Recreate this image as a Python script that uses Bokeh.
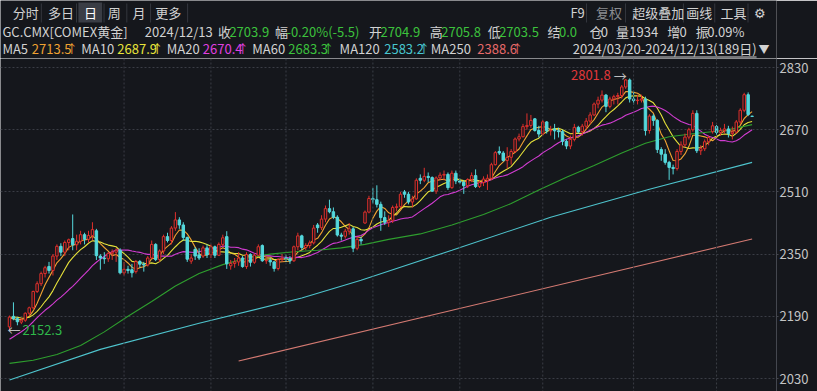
import numpy as np
import pandas as pd
from bokeh.plotting import figure
from bokeh.layouts import column
from bokeh.models import Range1d, FixedTicker, Span, ColumnDataSource
from bokeh.core.properties import value
from bokeh.embed import file_html
from bokeh.resources import INLINE

# ---------------- data ----------------
opens = [2163, 2190, 2184, 2175, 2180, 2198, 2212, 2254, 2274, 2300,
         2318, 2308, 2345, 2370, 2355, 2380, 2390, 2374, 2383, 2400,
         2388, 2398, 2410, 2345, 2340, 2338, 2352, 2355, 2360, 2302,
         2311, 2310, 2305, 2331, 2324, 2322, 2340, 2375, 2336, 2358,
         2395, 2385, 2417, 2438, 2425, 2393, 2332, 2362, 2348, 2345,
         2366, 2348, 2369, 2347, 2375, 2395, 2320, 2326, 2330, 2340,
         2318, 2349, 2329, 2347, 2372, 2333, 2334, 2330, 2313, 2336,
         2340, 2338, 2333, 2369, 2397, 2367, 2372, 2379, 2425, 2418,
         2440, 2467, 2459, 2445, 2399, 2396, 2409, 2415, 2365, 2388,
         2430, 2458, 2493, 2490, 2478, 2444, 2432, 2437, 2470, 2472,
         2510, 2504, 2484, 2492, 2545, 2540, 2550, 2547, 2512, 2546,
         2553, 2555, 2521, 2558, 2538, 2535, 2526, 2542, 2552, 2524,
         2534, 2540, 2545, 2580, 2614, 2610, 2591, 2599, 2614, 2646,
         2652, 2678, 2681, 2698, 2668, 2659, 2690, 2667, 2672, 2667,
         2665, 2640, 2628, 2645, 2676, 2665, 2679, 2692, 2708, 2736,
         2746, 2759, 2730, 2749, 2755, 2758, 2780, 2798, 2749, 2745,
         2746, 2749, 2668, 2705, 2694, 2619, 2607, 2586, 2573, 2570,
         2614, 2631, 2651, 2670, 2712, 2616, 2621, 2639, 2665, 2678,
         2663, 2668, 2672, 2660, 2664, 2690, 2720, 2760, 2704.9]
highs = [2192, 2226, 2188, 2186, 2200, 2215, 2256, 2280, 2305, 2320,
         2330, 2350, 2375, 2378, 2385, 2390, 2452, 2400, 2410, 2405,
         2410, 2432, 2415, 2350, 2355, 2355, 2362, 2365, 2365, 2330,
         2320, 2325, 2335, 2335, 2330, 2345, 2385, 2378, 2362, 2400,
         2405, 2422, 2458, 2445, 2432, 2395, 2350, 2368, 2365, 2372,
         2375, 2375, 2372, 2380, 2400, 2409, 2335, 2340, 2355, 2345,
         2355, 2352, 2352, 2375, 2375, 2345, 2340, 2332, 2340, 2350,
         2348, 2345, 2372, 2405, 2400, 2378, 2385, 2425, 2430, 2450,
         2475, 2490, 2470, 2450, 2405, 2415, 2430, 2420, 2395, 2395,
         2462, 2500, 2520, 2527, 2485, 2460, 2450, 2475, 2480, 2510,
         2515, 2510, 2500, 2545, 2555, 2572, 2560, 2550, 2550, 2560,
         2565, 2560, 2565, 2565, 2545, 2540, 2545, 2560, 2568, 2540,
         2550, 2555, 2585, 2615, 2627, 2615, 2625, 2620, 2650, 2660,
         2685, 2712, 2708, 2700, 2680, 2695, 2692, 2680, 2685, 2675,
         2670, 2645, 2655, 2685, 2680, 2685, 2700, 2715, 2740, 2755,
         2771, 2762, 2755, 2760, 2765, 2785, 2800, 2801.8, 2770, 2760,
         2760, 2755, 2710, 2710, 2697, 2625, 2620, 2590, 2580, 2620,
         2640, 2660, 2675, 2720, 2720, 2630, 2645, 2655, 2690, 2682,
         2675, 2685, 2680, 2678, 2695, 2725, 2765, 2766, 2705.8]
lows = [2152.3, 2180, 2167, 2170, 2176, 2192, 2208, 2250, 2268, 2290,
        2300, 2295, 2335, 2345, 2345, 2360, 2360, 2360, 2375, 2375,
        2380, 2385, 2335, 2310, 2325, 2330, 2335, 2330, 2298, 2295,
        2300, 2290, 2300, 2315, 2305, 2318, 2338, 2332, 2330, 2350,
        2380, 2375, 2410, 2415, 2385, 2330, 2325, 2335, 2335, 2340,
        2340, 2340, 2340, 2345, 2370, 2312, 2310, 2315, 2320, 2315,
        2312, 2318, 2325, 2345, 2330, 2325, 2320, 2305, 2308, 2330,
        2330, 2325, 2330, 2360, 2360, 2360, 2365, 2375, 2405, 2412,
        2432, 2455, 2440, 2395, 2385, 2390, 2400, 2355, 2360, 2375,
        2428, 2455, 2480, 2470, 2410, 2425, 2420, 2430, 2460, 2468,
        2495, 2478, 2470, 2490, 2530, 2535, 2535, 2510, 2505, 2540,
        2540, 2515, 2518, 2530, 2530, 2505, 2520, 2535, 2520, 2520,
        2525, 2515, 2540, 2578, 2605, 2588, 2570, 2580, 2610, 2640,
        2650, 2670, 2675, 2665, 2650, 2655, 2660, 2655, 2645, 2650,
        2630, 2620, 2620, 2640, 2660, 2655, 2670, 2685, 2705, 2725,
        2740, 2715, 2725, 2735, 2735, 2750, 2775, 2740, 2735, 2735,
        2740, 2655, 2660, 2680, 2610, 2590, 2580, 2541, 2555, 2565,
        2605, 2625, 2645, 2665, 2610, 2605, 2615, 2630, 2660, 2655,
        2655, 2660, 2650, 2645, 2660, 2685, 2715, 2705, 2703.5]
closes = [2188, 2184, 2176, 2180, 2198, 2212, 2254, 2274, 2300, 2315,
          2308, 2345, 2370, 2355, 2380, 2387, 2374, 2383, 2400, 2388,
          2398, 2413, 2346, 2340, 2338, 2352, 2355, 2360, 2302, 2311,
          2308, 2302, 2331, 2324, 2322, 2340, 2375, 2336, 2358, 2395,
          2385, 2417, 2438, 2425, 2393, 2337, 2340, 2345, 2340, 2366,
          2348, 2369, 2347, 2375, 2392, 2325, 2326, 2330, 2340, 2318,
          2349, 2329, 2347, 2369, 2333, 2334, 2330, 2313, 2336, 2339,
          2338, 2333, 2369, 2397, 2367, 2372, 2379, 2417, 2418, 2440,
          2467, 2459, 2445, 2399, 2396, 2409, 2415, 2365, 2388, 2384,
          2458, 2493, 2490, 2478, 2444, 2432, 2437, 2470, 2472, 2504,
          2504, 2484, 2492, 2540, 2540, 2550, 2547, 2512, 2546, 2553,
          2555, 2521, 2558, 2538, 2535, 2526, 2542, 2552, 2524, 2534,
          2543, 2545, 2580, 2611, 2610, 2591, 2599, 2614, 2646, 2652,
          2678, 2681, 2694, 2668, 2659, 2690, 2667, 2669, 2667, 2665,
          2640, 2628, 2645, 2676, 2665, 2679, 2692, 2708, 2736, 2746,
          2759, 2730, 2749, 2755, 2758, 2780, 2798, 2749, 2745, 2746,
          2749, 2668, 2705, 2694, 2619, 2607, 2586, 2573, 2570, 2614,
          2631, 2651, 2670, 2712, 2616, 2621, 2639, 2650, 2680, 2663,
          2668, 2672, 2660, 2664, 2690, 2720, 2760, 2709, 2703.9]
# closes before the window (only used for the short moving averages)
pre_closes = [2050, 2045, 2055, 2050, 2048, 2052, 2060, 2105, 2135, 2150,
              2170, 2180, 2200, 2205, 2185, 2195, 2185, 2180, 2180]

# long moving averages (candle index, value)
ma60_idx = [0, 6, 12, 18, 24, 30, 36, 42, 48, 54, 60, 66, 72, 78, 84, 90, 96,
            104, 112, 120, 127, 134, 141, 148, 155, 161, 167, 174, 181, 188]
ma60_val = [2069, 2077, 2092, 2115, 2150, 2190, 2228, 2268, 2300, 2323, 2340,
            2350, 2356, 2360, 2366, 2375, 2388, 2402, 2425, 2452, 2480, 2515,
            2548, 2578, 2610, 2635, 2652, 2661, 2668, 2683]
ma120_idx = [0, 23, 48, 74, 89, 112, 137, 162, 188]
ma120_val = [2026, 2105, 2172, 2237, 2283, 2360, 2445, 2517, 2586]
ma250_idx = [58, 188]
ma250_val = [2075, 2389]

y_ticks = [2030, 2190, 2350, 2510, 2670, 2830]
month_start_idx = [29, 51, 70, 92, 114, 135, 158, 179]

# ---------------- styling ----------------
BG = "#15171c"
FONT = "Noto Sans CJK SC"
RED = "#e0302c"
CYAN = "#54d8dc"
GRID = "#3a3d45"
C_MA5, C_MA10, C_MA20 = "#f0a232", "#e6e23a", "#d23cd2"
C_MA60, C_MA120, C_MA250 = "#2e9e2e", "#4ec3cc", "#d47a72"
LIGHT = "#d2d2d2"
GREEN_T = "#3cc23c"

W = 817
HH = 58
CH = 391 - HH

# ---------------- header ----------------
h = figure(width=W, height=HH, x_range=Range1d(0, W), y_range=Range1d(HH, 0),
           toolbar_location=None, output_backend="svg", x_axis_location=None,
           y_axis_location=None, min_border=0, outline_line_color=None,
           background_fill_color=BG, border_fill_color=BG)
h.grid.visible = False

r1, r2, r3 = 12, 31, 48
h.quad(left=[82], right=[107], top=[2], bottom=[22], fill_color="#3a3d45", line_color=None)
sep_x = [43, 80, 109, 133, 158, 197, 617, 658, 719, 752, 787]
h.segment(x0=sep_x, x1=sep_x, y0=[3] * len(sep_x), y1=[22] * len(sep_x),
          line_color="#34373e", line_width=1)

items = [
    # row 1
    (13, r1, "分时", LIGHT), (50, r1, "多日", LIGHT), (88, r1, "日", "#ffffff"),
    (113, r1, "周", LIGHT), (139, r1, "月", LIGHT), (163, r1, "更多", LIGHT),
    (600, r1, "F9", LIGHT), (627, r1, "复权", "#8a8c90"), (665, r1, "超级叠加", LIGHT),
    (722, r1, "画线", LIGHT), (758, r1, "工具", LIGHT), (793, r1, "⚙", LIGHT),
    # row 2
    (2, r2, "GC.CMX[COMEX黄金]", LIGHT), (152, r2, "2024/12/13", LIGHT),
    (229, r2, "收", LIGHT), (241, r2, "2703.9", GREEN_T),
    (289, r2, "幅", LIGHT), (301, r2, "-0.20%(-5.5)", GREEN_T),
    (388, r2, "开", LIGHT), (400, r2, "2704.9", GREEN_T),
    (452, r2, "高", LIGHT), (464, r2, "2705.8", GREEN_T),
    (513, r2, "低", LIGHT), (525, r2, "2703.5", GREEN_T),
    (576, r2, "结", LIGHT), (588, r2, "0.0", GREEN_T),
    (620, r2, "仓", LIGHT), (632, r2, "0", LIGHT),
    (648, r2, "量", LIGHT), (662, r2, "1934", LIGHT),
    (702, r2, "增", LIGHT), (715, r2, "0", LIGHT),
    (732, r2, "振", LIGHT), (744, r2, "0.09%", LIGHT),
    # row 3
    (2, r3, "MA5", LIGHT), (33, r3, "2713.5", C_MA5),
    (85, r3, "MA10", LIGHT), (123, r3, "2687.9", "#e8e43a"),
    (175, r3, "MA20", LIGHT), (213, r3, "2670.4", "#e040e0"),
    (265, r3, "MA60", LIGHT), (303, r3, "2683.3", GREEN_T),
    (357, r3, "MA120", LIGHT), (404, r3, "2583.2", "#48c8d0"),
    (453, r3, "MA250", LIGHT), (502, r3, "2388.6", "#e86a6a"),
]
hs = ColumnDataSource(dict(x=[a[0] for a in items], y=[a[1] for a in items],
                           text=[a[2] for a in items], color=[a[3] for a in items]))
h.text(x="x", y="y", text="text", text_color="color", source=hs,
       text_font=value(FONT), text_font_size="13px", text_baseline="middle", text_align="left")
# small rising arrows after the MA values
arrows = [(75, C_MA5), (165, "#e8e43a"), (255, "#e040e0"), (345, GREEN_T),
          (446, "#48c8d0"), (544, "#e86a6a")]
h.text(x=[a[0] for a in arrows], y=[r3] * len(arrows), text=["↑"] * len(arrows),
       text_color=[a[1] for a in arrows], text_font=value(FONT), text_font_size="12px",
       text_baseline="middle", text_align="center")
h.text(x=[796], y=[r3], text=["2024/03/20-2024/12/13(189日)"], text_color=LIGHT,
       text_font=value(FONT), text_font_size="13px", text_baseline="middle", text_align="right")
h.text(x=[798], y=[r3], text=["▼"], text_color=LIGHT,
       text_font=value(FONT), text_font_size="11px", text_baseline="middle", text_align="left")
h.segment(x0=[610], x1=[796], y0=[56.5], y1=[56.5], line_color=LIGHT, line_width=1)

# ---------------- chart ----------------
n = len(closes)
idx = np.arange(n)
step = 3.95
frame_w = 776
x0 = -9.0 / step
x1 = x0 + frame_w / step
ypx = 2.572
y_lo = 2830 - (391 - 67) * ypx
y_hi = 2830 + (67 - HH) * ypx

p = figure(width=W, height=CH, x_range=Range1d(x0, x1), y_range=Range1d(y_lo, y_hi),
           toolbar_location=None, output_backend="svg", x_axis_location=None,
           y_axis_location="right", min_border_left=0, min_border_right=W - frame_w,
           min_border_top=0, min_border_bottom=0, outline_line_color=None,
           background_fill_color=BG, border_fill_color=BG)
p.yaxis.ticker = FixedTicker(ticks=y_ticks)
p.yaxis.axis_line_color = "#44474f"
p.yaxis.major_tick_line_color = "#44474f"
p.yaxis.major_tick_out = 2
p.yaxis.major_tick_in = 0
p.yaxis.minor_tick_line_color = None
p.yaxis.major_label_standoff = 1
p.yaxis.major_label_text_color = "#c4c4c4"
p.yaxis.major_label_text_font = FONT
p.yaxis.major_label_text_font_size = "13px"
p.xgrid.visible = False
p.ygrid.ticker = FixedTicker(ticks=y_ticks)
p.ygrid.grid_line_color = GRID
p.ygrid.grid_line_dash = "2 2"
for m in month_start_idx:
    p.add_layout(Span(location=m, dimension="height", line_color=GRID, line_dash="2 2", line_width=1))

df = pd.DataFrame(dict(i=idx, o=opens, h=highs, l=lows, c=closes))
df["top"] = df[["o", "c"]].max(axis=1)
df["bot"] = df[["o", "c"]].min(axis=1)
df["h"] = df[["h", "top"]].max(axis=1)
df["l"] = df[["l", "bot"]].min(axis=1)
up = df[df.c >= df.o]
dn = df[df.c < df.o]

# moving averages
all_c = pd.Series(pre_closes + closes)
k = len(pre_closes)
for nma, col in [(5, C_MA5), (10, C_MA10), (20, C_MA20)]:
    ma = all_c.rolling(nma, min_periods=1).mean().values[k:]
    p.line(idx, ma, line_color=col, line_width=1.1)
p.line(ma60_idx, ma60_val, line_color=C_MA60, line_width=1.1)
p.line(ma120_idx, ma120_val, line_color=C_MA120, line_width=1.1)
p.line(ma250_idx, ma250_val, line_color=C_MA250, line_width=1.1)

# candles
p.segment(x0=dn.i, x1=dn.i, y0=dn.h, y1=dn.l, line_color=CYAN, line_width=1)
p.vbar(x=dn.i, width=0.62, top=dn.top, bottom=dn.bot, fill_color=CYAN, line_color=CYAN, line_width=1)
p.segment(x0=up.i, x1=up.i, y0=up.h, y1=up.top, line_color=RED, line_width=1)
p.segment(x0=up.i, x1=up.i, y0=up.bot, y1=up.l, line_color=RED, line_width=1)
p.vbar(x=up.i, width=0.62, top=up.top, bottom=up.bot, fill_color=BG, line_color=RED, line_width=1)

# high / low annotations
ih = int(np.argmax(highs))
il = int(np.argmin(lows))
p.text(x=[ih], y=[highs[ih]], text=[f"{highs[ih]:.1f}"], text_color="#e2383a",
       text_font=value(FONT), text_font_size="13px", text_align="right",
       text_baseline="middle", x_offset=-19, y_offset=-3)
p.text(x=[ih], y=[highs[ih]], text=["→"], text_color="#bfbfbf",
       text_font=value(FONT), text_font_size="13px", text_align="right",
       text_baseline="middle", x_offset=-3, y_offset=-3)
p.text(x=[il], y=[lows[il]], text=["←"], text_color="#bfbfbf",
       text_font=value(FONT), text_font_size="13px", text_align="left",
       text_baseline="middle", x_offset=-2, y_offset=-1)
p.text(x=[il], y=[lows[il]], text=[f"{lows[il]:.1f}"], text_color="#2fb84a",
       text_font=value(FONT), text_font_size="13px", text_align="left",
       text_baseline="middle", x_offset=13, y_offset=-1)

layout = column(h, p, spacing=0)
open("out.html", "w").write(file_html(layout, INLINE))
